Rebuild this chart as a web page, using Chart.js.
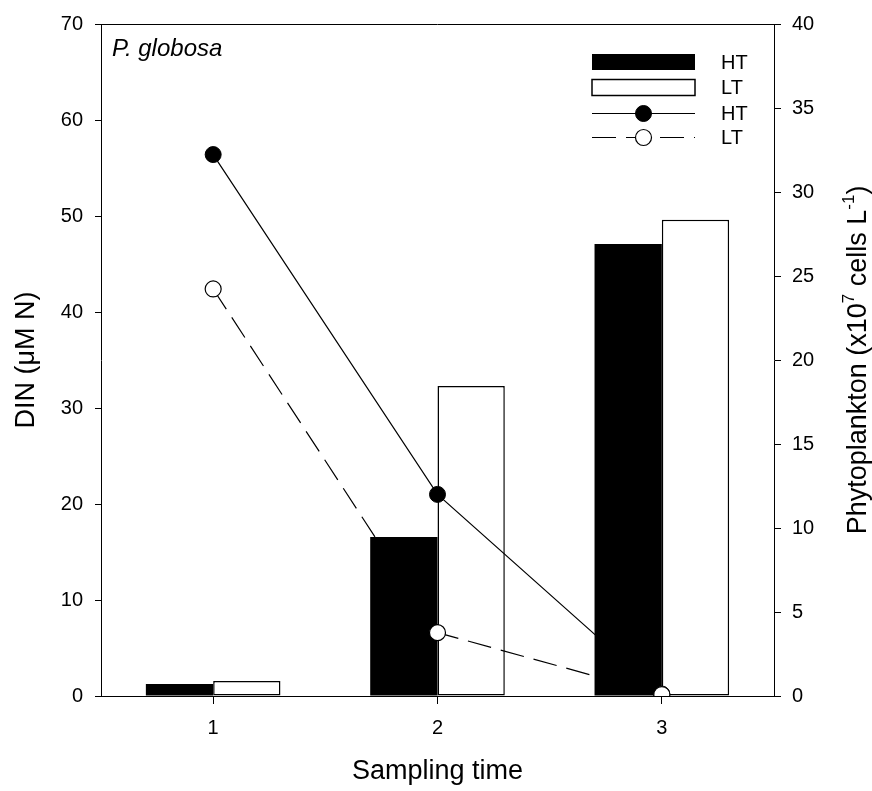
<!DOCTYPE html>
<html>
<head>
<meta charset="utf-8">
<script src="https://cdn.jsdelivr.net/npm/chart.js@4.4.1/dist/chart.umd.min.js"></script>
<style>
  html, body { margin: 0; padding: 0; background: #fff; }
  #wrap { width: 872px; height: 791px; position: relative; }
</style>
</head>
<body>
<div id="wrap"><canvas id="chart"></canvas></div>
<script>
// sampling times
const categories = ['1', '2', '3'];

// phytoplankton (x10^7 cells L^-1), bars, right axis
const phytoHT = [0.71, 9.46, 26.9];
const phytoLT = [0.89, 18.45, 28.35];

// DIN (uM N), lines, left axis
const dinHT = [56.4, 21.0, 0.2];
const dinLT = [42.4, 6.6, 0.15];

const legendLabels = ['HT', 'LT', 'HT', 'LT'];
const FONT = "'Liberation Sans', Arial, sans-serif";

// top frame line + species label
const framePlugin = {
    id: 'frame',
    afterDraw(chart) {
        const ctx = chart.ctx;
        const a = chart.chartArea;
        ctx.save();
        ctx.strokeStyle = '#000';
        ctx.lineWidth = 1;
        ctx.beginPath();
        ctx.moveTo(a.left, Math.round(a.top) + 0.5);
        ctx.lineTo(a.right, Math.round(a.top) + 0.5);
        ctx.stroke();

        ctx.fillStyle = '#000';
        ctx.font = 'italic 24px ' + FONT;
        ctx.textBaseline = 'alphabetic';
        ctx.textAlign = 'left';
        ctx.fillText('P. globosa', a.left + 11, a.top + 32);
        ctx.restore();
    }
};

// right axis title with superscripts, reading bottom to top
const rightTitlePlugin = {
    id: 'rightTitle',
    afterDraw(chart) {
        const ctx = chart.ctx;
        const a = chart.chartArea;
        const parts = [
            ['Phytoplankton (x10', false],
            ['7', true],
            [' cells L', false],
            ['-1', true],
            [')', false]
        ];
        ctx.save();
        ctx.translate(859, (a.top + a.bottom) / 2);
        ctx.rotate(-Math.PI / 2);
        ctx.fillStyle = '#000';
        ctx.textBaseline = 'middle';
        ctx.textAlign = 'left';
        let total = 0;
        parts.forEach(p => {
            ctx.font = (p[1] ? '17px ' : '27px ') + FONT;
            total += ctx.measureText(p[0]).width;
        });
        let x = -total / 2;
        parts.forEach(p => {
            ctx.font = (p[1] ? '17px ' : '27px ') + FONT;
            ctx.fillText(p[0], x, p[1] ? -10 : 0);
            x += ctx.measureText(p[0]).width;
        });
        ctx.restore();
    }
};

// legend box in the top right corner of the plot
const legendPlugin = {
    id: 'cornerLegend',
    afterDraw(chart) {
        const ctx = chart.ctx;
        const a = chart.chartArea;
        const x0 = a.right - 182;
        const x1 = a.right - 79;
        const rowY = [a.top + 38, a.top + 63.5, a.top + 89.5, a.top + 113.5];
        const ds = chart.data.datasets;
        ctx.save();
        ds.forEach((d, i) => {
            const y = rowY[i];
            if (d.type === 'bar') {
                ctx.fillStyle = d.backgroundColor;
                ctx.fillRect(x0, y - 8, x1 - x0, 16);
                if (d.borderWidth) {
                    ctx.strokeStyle = d.borderColor;
                    ctx.lineWidth = d.borderWidth;
                    ctx.strokeRect(x0, y - 8, x1 - x0, 16);
                }
            } else {
                ctx.strokeStyle = d.borderColor;
                ctx.lineWidth = d.borderWidth;
                ctx.setLineDash(d.borderDash || []);
                ctx.beginPath();
                ctx.moveTo(x0, y);
                ctx.lineTo(x1, y);
                ctx.stroke();
                ctx.setLineDash([]);
                ctx.beginPath();
                ctx.arc((x0 + x1) / 2, y, d.pointRadius, 0, Math.PI * 2);
                ctx.fillStyle = d.pointBackgroundColor;
                ctx.fill();
                ctx.lineWidth = d.pointBorderWidth;
                ctx.strokeStyle = d.pointBorderColor;
                ctx.stroke();
            }
            ctx.fillStyle = '#000';
            ctx.font = '20px ' + FONT;
            ctx.textBaseline = 'middle';
            ctx.textAlign = 'left';
            ctx.fillText(legendLabels[i], a.right - 53, y + 1);
        });
        ctx.restore();
    }
};

const ctx = document.getElementById('chart').getContext('2d');
new Chart(ctx, {
    type: 'bar',
    data: {
        labels: categories,
        datasets: [
            {
                type: 'bar',
                label: 'HT',
                data: phytoHT,
                yAxisID: 'yR',
                backgroundColor: '#000',
                borderColor: '#000',
                borderWidth: 0,
                categoryPercentage: 0.6,
                barPercentage: 1.0,
                order: 3
            },
            {
                type: 'bar',
                label: 'LT',
                data: phytoLT,
                yAxisID: 'yR',
                backgroundColor: '#fff',
                borderColor: '#000',
                borderWidth: 1.5,
                borderSkipped: false,
                categoryPercentage: 0.6,
                barPercentage: 1.0,
                order: 4
            },
            {
                type: 'line',
                label: 'HT',
                data: dinHT,
                yAxisID: 'yL',
                borderColor: '#000',
                borderWidth: 1.2,
                pointRadius: 8,
                pointBackgroundColor: '#000',
                pointBorderColor: '#000',
                pointBorderWidth: 1,
                tension: 0,
                order: 2
            },
            {
                type: 'line',
                label: 'LT',
                data: dinLT,
                yAxisID: 'yL',
                borderColor: '#000',
                borderWidth: 1.2,
                borderDash: [24, 10],
                pointRadius: 8,
                pointBackgroundColor: '#fff',
                pointBorderColor: '#000',
                pointBorderWidth: 1.2,
                tension: 0,
                order: 1
            }
        ]
    },
    options: {
        responsive: true,
        maintainAspectRatio: false,
        animation: false,
        layout: { padding: { top: 23, left: 0, right: 0, bottom: 0 } },
        plugins: {
            legend: { display: false },
            tooltip: { enabled: false }
        },
        scales: {
            x: {
                type: 'category',
                offset: true,
                grid: {
                    offset: false,
                    drawOnChartArea: false,
                    drawTicks: true,
                    tickLength: 8,
                    color: '#000'
                },
                border: { display: true, color: '#000', width: 1 },
                ticks: {
                    color: '#000',
                    padding: 12,
                    maxRotation: 0,
                    font: { family: FONT, size: 20 }
                },
                title: {
                    display: true,
                    text: 'Sampling time',
                    color: '#000',
                    font: { family: FONT, size: 27 },
                    padding: { top: 0, bottom: 3 }
                },
                afterFit: s => { s.height = 95; }
            },
            yL: {
                position: 'left',
                min: 0,
                max: 70,
                grid: {
                    drawOnChartArea: false,
                    drawTicks: true,
                    tickLength: 6,
                    color: '#000'
                },
                border: { display: true, color: '#000', width: 1 },
                ticks: {
                    stepSize: 10,
                    color: '#000',
                    padding: 12,
                    font: { family: FONT, size: 20 }
                },
                title: {
                    display: true,
                    text: 'DIN (\u03bcM N)',
                    color: '#000',
                    font: { family: FONT, size: 27 },
                    padding: { top: 10, bottom: 0 }
                },
                afterFit: s => { s.width = 101; }
            },
            yR: {
                position: 'right',
                min: 0,
                max: 40,
                grid: {
                    drawOnChartArea: false,
                    drawTicks: true,
                    tickLength: 7,
                    color: '#000'
                },
                border: { display: true, color: '#000', width: 1 },
                ticks: {
                    stepSize: 5,
                    color: '#000',
                    padding: 11,
                    font: { family: FONT, size: 20 }
                },
                title: { display: false },
                afterFit: s => { s.width = 98; }
            }
        }
    },
    plugins: [framePlugin, rightTitlePlugin, legendPlugin]
});
</script>
</body>
</html>
